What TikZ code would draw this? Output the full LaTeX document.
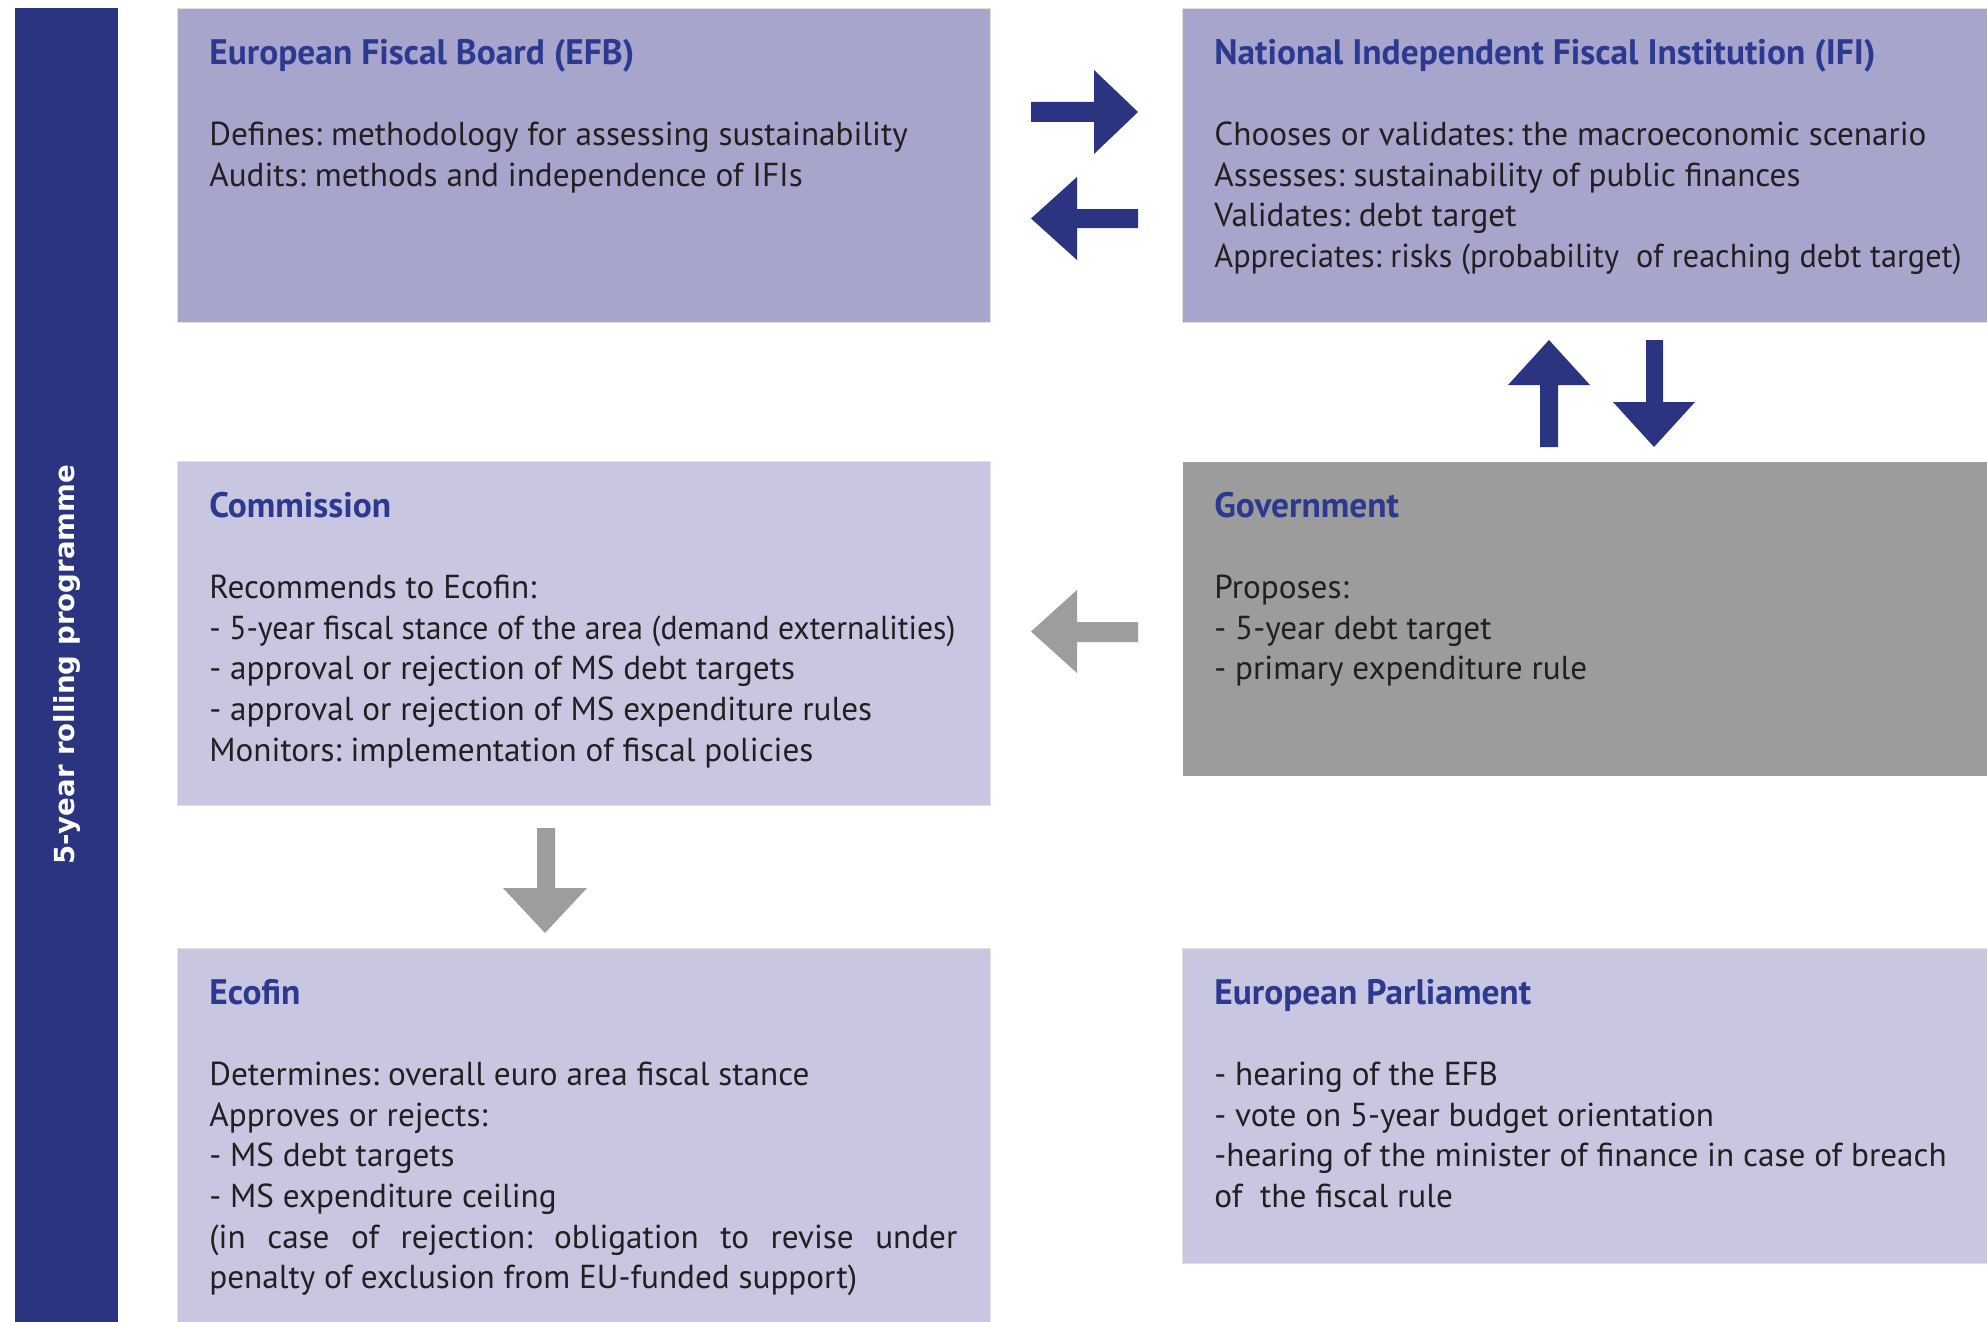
\documentclass[tikz,border=0pt]{standalone}
\usepackage{fontspec}
\setmainfont{PT Sans}
\newfontfamily\barfont{DejaVu Sans}
\definecolor{navy}{HTML}{2B3480}
\definecolor{lavdark}{HTML}{A8A5CD}
\definecolor{lavlight}{HTML}{C9C6E2}
\definecolor{govgray}{HTML}{9C9C9C}
\definecolor{arrgray}{HTML}{9D9D9D}
\definecolor{ttlblue}{HTML}{2B3990}
\definecolor{txtblack}{HTML}{231F20}
\newcommand{\ttl}[1]{\rule{0pt}{15pt}{\fontsize{17.7}{20.3}\selectfont\bfseries\color{ttlblue}#1}}
\newcommand{\sqz}[2]{\scalebox{#1}[1]{#2}}
\frenchspacing
\begin{document}
\begin{tikzpicture}[x=0.5pt,y=-0.5pt,
  panel/.style={anchor=north west,inner sep=0pt,draw=black!12,line width=0.6pt},
  boxtext/.style={anchor=north west,inner sep=0pt,align=left,text=txtblack,
    font=\fontsize{16.6}{20.3}\selectfont\frenchspacing},
  navyarrow/.style={fill=navy},
  grayarrow/.style={fill=arrgray}]
\useasboundingbox (0,0) rectangle (1987,1322);
\fill[white] (0,0) rectangle (1987,1322);
% left bar
\node[anchor=north west,inner sep=0pt,fill=navy,minimum width=51.5pt,minimum height=657pt] (bar) at (15,8) {};
\node[rotate=90,text=white,font=\barfont\bfseries\fontsize{13.8}{15}\selectfont] (barlabel) at (67,665) {5-year rolling programme};
% panels
\node[panel,fill=lavdark,minimum width=406.5pt,minimum height=157pt] (efb) at (177,8) {};
\node[panel,fill=lavdark,minimum width=402.5pt,minimum height=157pt] (ifi) at (1182,8) {};
\node[panel,fill=lavlight,minimum width=406.5pt,minimum height=172pt] (com) at (177,461) {};
\node[panel,fill=govgray,draw=none,minimum width=402.5pt,minimum height=157pt] (gov) at (1182,461) {};
\node[panel,fill=lavlight,minimum width=406.5pt,minimum height=187pt] (eco) at (177,948) {};
\node[panel,fill=lavlight,minimum width=402.5pt,minimum height=157.5pt] (ep) at (1182,948) {};
% texts
\node[boxtext] (efbtxt) at (209,34) {\ttl{European Fiscal Board (EFB)}\\[20.3pt]
Defines: methodology for assessing sustainability\\
Audits: methods and independence of IFIs};
\node[boxtext] (ifitxt) at (1214,34) {\ttl{National Independent Fiscal Institution (IFI)}\\[20.3pt]
Chooses or validates: the macroeconomic scenario\\
Assesses: sustainability of public finances\\
Validates: debt target\\
\sqz{0.97}{Appreciates: risks (probability\ \ of reaching debt target)}};
\node[boxtext] (comtxt) at (209,487) {\ttl{Commission}\\[20.3pt]
Recommends to Ecofin:\\
\sqz{0.955}{- 5-year fiscal stance of the area (demand externalities)}\\
- approval or rejection of MS debt targets\\
- approval or rejection of MS expenditure rules\\
Monitors: implementation of fiscal policies};
\node[boxtext] (govtxt) at (1214,487) {\ttl{Government}\\[20.3pt]
Proposes:\\
- 5-year debt target\\
- primary expenditure rule};
\node[boxtext] (ecotxt) at (209,974) {\ttl{Ecofin}\\[20.3pt]
Determines: overall euro area fiscal stance\\
Approves or rejects:\\
- MS debt targets\\
- MS expenditure ceiling\\
\makebox[374pt][s]{(in case of rejection: obligation to revise under}\\
penalty of exclusion from EU-funded support)};
\node[boxtext] (eptxt) at (1214,974) {\ttl{European Parliament}\\[20.3pt]
- hearing of the EFB\\
- vote on 5-year budget orientation\\
-hearing of the minister of finance in case of breach\\
of\ \ the fiscal rule};
% arrows EFB <-> IFI
\fill[navyarrow] (1031,102) -- (1094,102) -- (1094,70) -- (1138,112) -- (1094,154) -- (1094,122) -- (1031,122) -- cycle;
\fill[navyarrow] (1138,209) -- (1077,209) -- (1077,177) -- (1031,218.5) -- (1077,260) -- (1077,228) -- (1138,228) -- cycle;
% arrows IFI <-> Government
\fill[navyarrow] (1540,447) -- (1540,385) -- (1508,385) -- (1549,340) -- (1590,385) -- (1558,385) -- (1558,447) -- cycle;
\fill[navyarrow] (1646,340) -- (1663,340) -- (1663,402) -- (1695,402) -- (1654,447) -- (1613,402) -- (1646,402) -- cycle;
% Government -> Commission
\fill[grayarrow] (1138,622) -- (1077,622) -- (1077,590) -- (1031,631.5) -- (1077,673) -- (1077,642) -- (1138,642) -- cycle;
% Commission -> Ecofin
\fill[grayarrow] (537,828) -- (555,828) -- (555,888) -- (587,888) -- (545,933) -- (503,888) -- (537,888) -- cycle;
\end{tikzpicture}
\end{document}
